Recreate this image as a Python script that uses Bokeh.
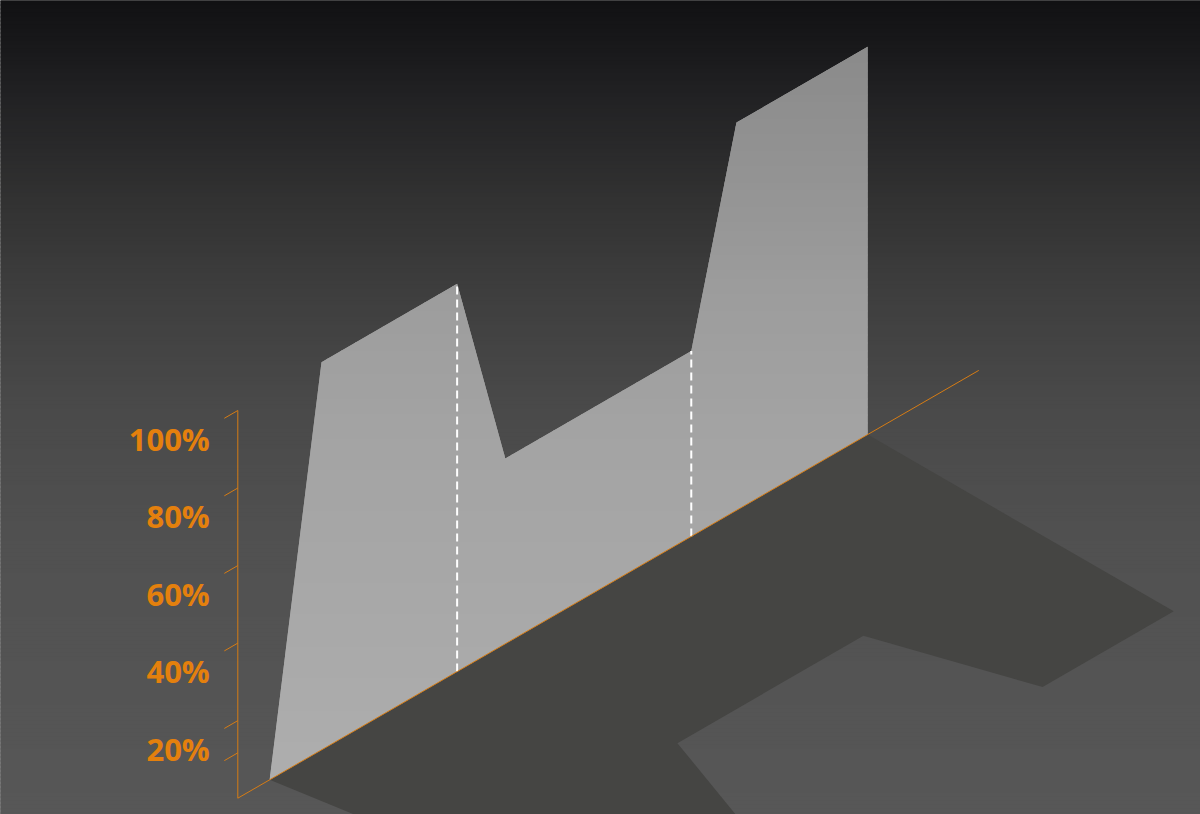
import numpy as np
from bokeh.plotting import figure
from bokeh.models import Range1d
from bokeh.core.properties import value
from bokeh.embed import file_html
from bokeh.resources import INLINE

# data: position along the base axis (0-100) and value in %
x_pos = [4.3, 11.3, 29.6, 36.1, 61.2, 67.3, 85.0]
share = [0, 100, 100, 47.8, 47.8, 100, 100]
dividers = [29.6, 61.2]
tick_vals = [100, 80, 60, 40, 20, 11.7]
tick_labels = ["100%", "80%", "60%", "40%", "20%"]

W, H = 1200, 814
ORIGIN = (237.3, 797.7)     # screen px of the axis corner
UNIT = 8.556                # px per base unit
PCT = 3.877                 # px per percent
C30, S30 = np.cos(np.pi / 6), np.sin(np.pi / 6)
ORANGE = "#d67c14"
LABEL = "#e4800d"


def proj(x, h):
    # isometric projection, returns screen px
    sx = ORIGIN[0] + x * UNIT * C30
    sy = ORIGIN[1] - x * UNIT * S30 - h * PCT
    return sx, sy


def shadow(x, h):
    # shadow falls to the lower right on the floor
    bx, by = proj(x, 0)
    ln = 353.5 * (h / 100.0) ** 0.78
    return bx + ln * C30, by + ln * S30


def Y(sy):
    return H - sy


def lerp_hex(stops, y):
    ys = [s[0] for s in stops]
    out = []
    for k in range(3):
        out.append(int(round(np.interp(y, ys, [s[1][k] for s in stops]))))
    return "#%02x%02x%02x" % tuple(out)


def clip(poly, y0, y1):
    # keep part of polygon with y0 <= sy <= y1
    def cut(pts, keep, yc):
        res = []
        n = len(pts)
        for i in range(n):
            a, b = pts[i], pts[(i + 1) % n]
            ka, kb = keep(a[1]), keep(b[1])
            if ka:
                res.append(a)
            if ka != kb:
                t = (yc - a[1]) / (b[1] - a[1])
                res.append((a[0] + t * (b[0] - a[0]), yc))
        return res
    pts = cut(poly, lambda y: y >= y0, y0)
    if pts:
        pts = cut(pts, lambda y: y <= y1, y1)
    return pts


p = figure(width=W, height=H, output_backend="svg", toolbar_location=None,
           x_range=Range1d(0, W), y_range=Range1d(0, H))
p.axis.visible = False
p.grid.visible = False
p.outline_line_color = None
p.min_border = 0
p.background_fill_color = "#2a2a2a"
p.border_fill_color = "#2a2a2a"

# background gradient
bg_stops = [(0, (0x11, 0x11, 0x13)), (30, (0x16, 0x16, 0x18)), (100, (0x22, 0x22, 0x24)),
            (200, (0x32, 0x32, 0x32)), (300, (0x3f, 0x3f, 0x3f)), (400, (0x49, 0x49, 0x49)),
            (550, (0x51, 0x51, 0x51)), (814, (0x57, 0x57, 0x57))]
step = 4
tops = np.arange(-8, H + 8, step)
p.quad(left=-20, right=W + 20, top=[Y(t) for t in tops], bottom=[Y(t + step + 1) for t in tops],
       fill_color=[lerp_hex(bg_stops, t + step / 2) for t in tops], line_color=None)

# area polygon
area = [proj(x_pos[0], 0)] + [proj(x, v) for x, v in zip(x_pos, share)] + [proj(x_pos[-1], 0)]
area_xy = [(x_pos[0], 0)] + list(zip(x_pos, share)) + [(x_pos[-1], 0)]

# shadow
sh = [shadow(x, v) for x, v in area_xy]
p.patch([s[0] for s in sh], [Y(s[1]) for s in sh], fill_color="#454543", line_color=None)

# area with vertical gradient
area_stops = [(40, (0x8a, 0x8a, 0x8a)), (200, (0x95, 0x95, 0x95)), (300, (0x9d, 0x9d, 0x9d)),
              (450, (0xa4, 0xa4, 0xa4)), (600, (0xa8, 0xa8, 0xa8)), (790, (0xae, 0xae, 0xae))]
p.patch([a[0] for a in area], [Y(a[1]) for a in area], fill_color="#a0a0a0", line_color=None)
bx, by, bc = [], [], []
band = 8
for y0 in range(30, 800, band):
    part = clip(area, y0, y0 + band + 1)
    if len(part) >= 3:
        bx.append([q[0] for q in part])
        by.append([Y(q[1]) for q in part])
        bc.append(lerp_hex(area_stops, y0 + band / 2))
p.patches(bx, by, fill_color=bc, line_color=None)

# dashed dividers
d_top = [proj(d, np.interp(d, x_pos, share)) for d in dividers]
d_bot = [proj(d, 0) for d in dividers]
p.segment(x0=[a[0] for a in d_bot], y0=[Y(a[1]) for a in d_bot],
          x1=[a[0] for a in d_top], y1=[Y(a[1]) for a in d_top],
          line_color="white", line_width=2, line_dash="8 5")

# axes
b0, b1 = proj(0, 0), proj(100, 0)
p.line([b0[0], b1[0]], [Y(b0[1]), Y(b1[1])], line_color=ORANGE, line_width=1)
v1 = proj(0, 100)
p.line([b0[0], v1[0]], [Y(b0[1]), Y(v1[1])], line_color=ORANGE, line_width=1)
t0 = [proj(0, t) for t in tick_vals]
t1 = [proj(-1.82, t) for t in tick_vals]
p.segment(x0=[a[0] for a in t0], y0=[Y(a[1]) for a in t0],
          x1=[a[0] for a in t1], y1=[Y(a[1]) for a in t1], line_color=ORANGE, line_width=1)

lab = [proj(0, t) for t in tick_vals[:len(tick_labels)]]
p.text(x=[a[0] - 28 for a in lab], y=[Y(a[1] + 28) for a in lab], text=tick_labels,
       text_align="right", text_baseline="middle", text_color=LABEL,
       text_font=value("Open Sans"), text_font_style="bold", text_font_size="31px")

open("out.html", "w").write(file_html(p, INLINE))
